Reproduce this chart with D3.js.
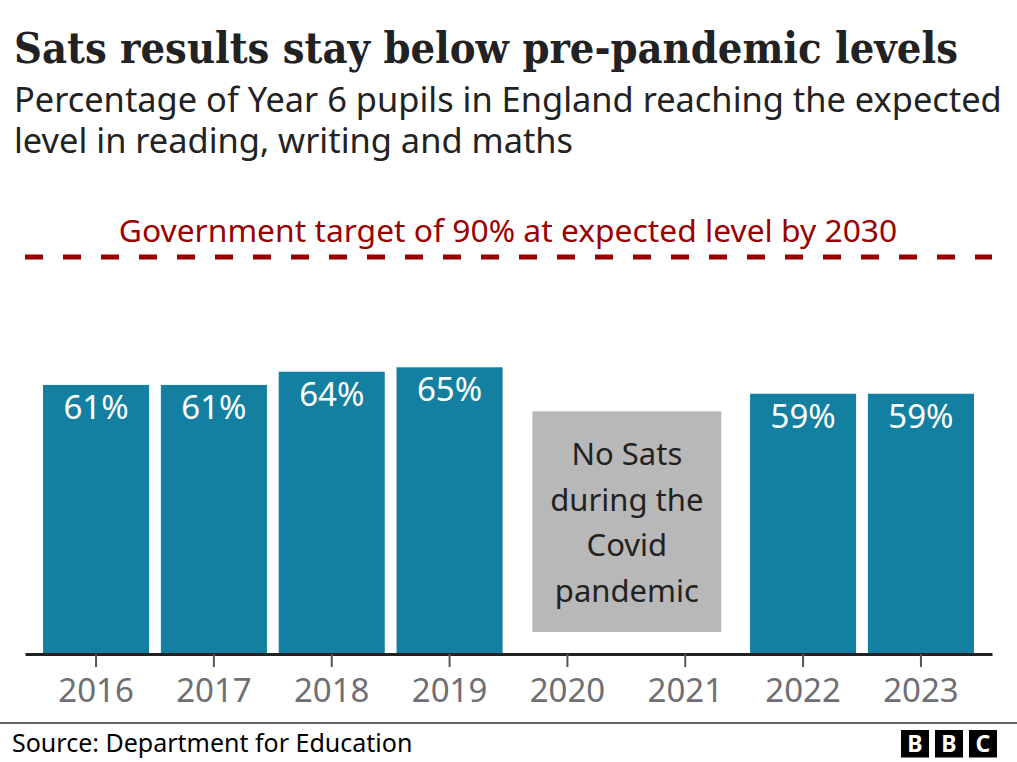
<!DOCTYPE html>
<html>
<head>
<meta charset="utf-8">
<script src="https://cdnjs.cloudflare.com/ajax/libs/d3/7.8.5/d3.min.js"></script>
<style>
  html, body { margin: 0; padding: 0; background: #fff; }
  svg { display: block; }
  text { font-family: "Noto Sans", sans-serif; }
</style>
</head>
<body>
<svg id="chart"></svg>
<script>
const years = ["2016", "2017", "2018", "2019", "2020", "2021", "2022", "2023"];
const values = [61, 61, 64, 65, null, null, 59, 59];
const target = 90;
const targetLabel = "Government target of 90% at expected level by 2030";
const gapYears = ["2020", "2021"];
const gapRange = [5, 55];
const gapLines = ["No Sats", "during the", "Covid", "pandemic"];
const subtitleLines = [
  "Percentage of Year 6 pupils in England reaching the expected",
  "level in reading, writing and maths"
];

const width = 1017, height = 762;
const svg = d3.select("#chart").attr("width", width).attr("height", height);

const x = d3.scaleBand().domain(years).range([25, 992]).paddingInner(0.1).paddingOuter(0.153);
const y = d3.scaleLinear().domain([0, 90]).range([654, 257]);
const centre = (d) => x(d) + x.bandwidth() / 2;

// heading
svg.append("text")
  .attr("x", 14).attr("y", 63)
  .style("font-family", '"DejaVu Serif Condensed", "DejaVu Serif", serif')
  .style("font-weight", 700)
  .style("font-size", "43px")
  .attr("fill", "#222")
  .text("Sats results stay below pre-pandemic levels");

svg.append("text")
  .style("font-size", "34.4px")
  .attr("fill", "#222")
  .selectAll("tspan")
  .data(subtitleLines)
  .enter()
  .append("tspan")
  .attr("x", 14)
  .attr("y", (d, i) => 112 + i * 41)
  .text((d) => d);

// bars
const bars = years.map((d, i) => ({ year: d, value: values[i] })).filter((d) => d.value !== null);

svg.selectAll(".bar")
  .data(bars)
  .enter()
  .append("rect")
  .attr("class", "bar")
  .attr("x", (d) => x(d.year))
  .attr("y", (d) => y(d.value))
  .attr("width", x.bandwidth())
  .attr("height", (d) => y(0) - y(d.value))
  .attr("fill", "#1380a1");

svg.selectAll(".bar-label")
  .data(bars)
  .enter()
  .append("text")
  .attr("class", "bar-label")
  .attr("x", (d) => centre(d.year))
  .attr("y", (d) => y(d.value) + 34)
  .attr("text-anchor", "middle")
  .style("font-size", "33px")
  .attr("fill", "#fff")
  .text((d) => d.value + "%");

// covid gap box
const gapLeft = centre(gapYears[0]) - 35;
const gapRight = centre(gapYears[1]) + 36;
const gapMid = (gapLeft + gapRight) / 2;

svg.append("rect")
  .attr("x", gapLeft)
  .attr("y", y(gapRange[1]))
  .attr("width", gapRight - gapLeft)
  .attr("height", y(gapRange[0]) - y(gapRange[1]))
  .attr("fill", "#b8b8b8");

svg.selectAll(".gap-label")
  .data(gapLines)
  .enter()
  .append("text")
  .attr("class", "gap-label")
  .attr("x", gapMid)
  .attr("y", (d, i) => 465 + i * 45.5)
  .attr("text-anchor", "middle")
  .style("font-size", "31px")
  .attr("fill", "#222")
  .text((d) => d);

// target line
svg.append("line")
  .attr("x1", 25).attr("x2", 992)
  .attr("y1", y(target)).attr("y2", y(target))
  .attr("stroke", "#990000")
  .attr("stroke-width", 5)
  .attr("stroke-dasharray", "18 20");

svg.append("text")
  .attr("x", 508).attr("y", 242)
  .attr("text-anchor", "middle")
  .style("font-size", "31.8px")
  .attr("fill", "#990000")
  .text(targetLabel);

// axis
const axis = svg.append("g")
  .attr("transform", `translate(0,${y(0)})`)
  .call(d3.axisBottom(x).tickSize(13).tickSizeOuter(0).tickPadding(12));

axis.select(".domain").attr("stroke", "#222").attr("stroke-width", 3);
axis.selectAll(".tick line").attr("stroke", "#555").attr("stroke-width", 2);
axis.selectAll(".tick text")
  .style("font-size", "33px")
  .style("font-family", '"Noto Sans", sans-serif')
  .attr("fill", "#6e6e73");

// footer
svg.append("line")
  .attr("x1", 0).attr("x2", width)
  .attr("y1", 723).attr("y2", 723)
  .attr("stroke", "#666")
  .attr("stroke-width", 2);

svg.append("text")
  .attr("x", 12).attr("y", 752)
  .style("font-size", "25px")
  .attr("fill", "#000")
  .text("Source: Department for Education");

const logo = svg.append("g").selectAll("g")
  .data(["B", "B", "C"])
  .enter()
  .append("g")
  .attr("transform", (d, i) => `translate(${901 + i * 34},730)`);

logo.append("rect").attr("width", 28).attr("height", 27.5).attr("fill", "#000");
logo.append("text")
  .attr("x", 14).attr("y", 22)
  .attr("text-anchor", "middle")
  .style("font-size", "23px")
  .style("font-weight", 700)
  .attr("fill", "#fff")
  .text((d) => d);
</script>
</body>
</html>
